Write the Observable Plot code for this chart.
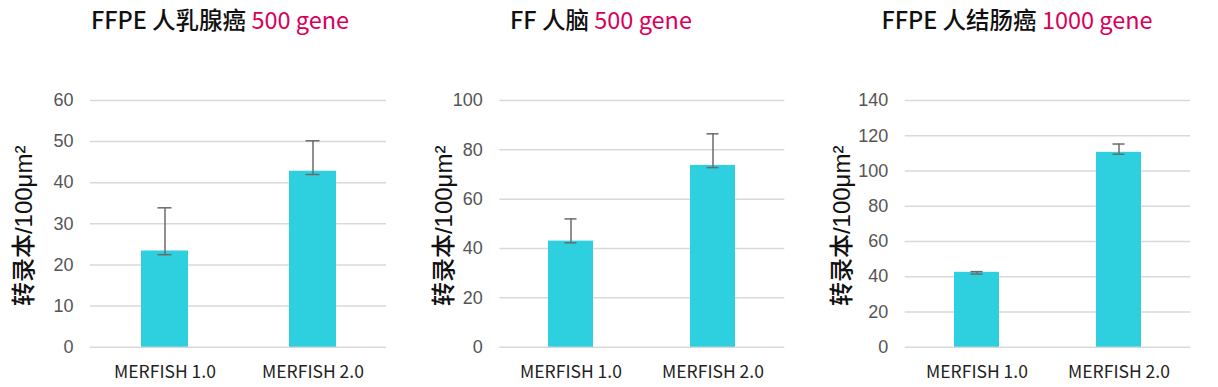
<!DOCTYPE html>
<html><head><meta charset="utf-8">
<script src="https://cdn.jsdelivr.net/npm/d3@7"></script>
<script src="https://cdn.jsdelivr.net/npm/@observablehq/plot@0.6"></script>
<style>
body{margin:0;background:#fff;}
#wrap{position:relative;width:1218px;height:387px;overflow:hidden;}
.title{position:absolute;top:8px;transform:translateX(-50%);white-space:nowrap;font-family:"Noto Sans CJK SC","Noto Sans",sans-serif;font-size:23.5px;line-height:1;color:#111;font-weight:500}
.title .hl{color:#d9005b;font-weight:400}
.panel{position:absolute;top:50px;}
.panel svg{overflow:visible;background:none;}
</style></head><body><div id="wrap"></div>
<script>
const categories = ["MERFISH 1.0", "MERFISH 2.0"];
const yLabel = "转录本/100μm²";

const breastTitle = "FFPE 人乳腺癌";
const breastGenes = "500 gene";
const breastValues = [23.4, 42.8];
const breastLow = [22.5, 42.0];
const breastHigh = [33.9, 50.2];
const breastTicks = [0, 10, 20, 30, 40, 50, 60];

const brainTitle = "FF 人脑";
const brainGenes = "500 gene";
const brainValues = [43.0, 73.7];
const brainLow = [42.3, 72.8];
const brainHigh = [52.0, 86.5];
const brainTicks = [0, 20, 40, 60, 80, 100];

const colonTitle = "FFPE 人结肠癌";
const colonGenes = "1000 gene";
const colonValues = [42.5, 110.6];
const colonLow = [41.5, 109.5];
const colonHigh = [42.9, 115.3];
const colonTicks = [0, 20, 40, 60, 80, 100, 120, 140];

const panels = [
  {title: breastTitle, genes: breastGenes, values: breastValues, low: breastLow, high: breastHigh, ticks: breastTicks,
   left: 0, titleCenter: 220, marginLeft: 90, marginRight: 20, labelDx: -66},
  {title: brainTitle, genes: brainGenes, values: brainValues, low: brainLow, high: brainHigh, ticks: brainTicks,
   left: 406, titleCenter: 601, marginLeft: 93.3, marginRight: 27.7, labelDx: -55},
  {title: colonTitle, genes: colonGenes, values: colonValues, low: colonLow, high: colonHigh, ticks: colonTicks,
   left: 812, titleCenter: 1017, marginLeft: 92.7, marginRight: 28, labelDx: -63}
];

const wrap = document.getElementById("wrap");
for (const p of panels) {
  const t = document.createElement("div");
  t.className = "title";
  t.style.left = p.titleCenter + "px";
  t.append(p.title + " ");
  const s = document.createElement("span");
  s.className = "hl";
  s.textContent = p.genes;
  t.append(s);
  wrap.append(t);

  const data = categories.map((c, i) => ({cat: c, value: p.values[i], low: p.low[i], high: p.high[i]}));
  const ymax = p.ticks[p.ticks.length - 1];
  const chart = Plot.plot({
    width: 406,
    height: 337,
    marginTop: 50,
    marginBottom: 40.3,
    marginLeft: p.marginLeft,
    marginRight: p.marginRight,
    x: {domain: categories, paddingInner: 0.685, paddingOuter: 0.3425},
    y: {domain: [0, ymax]},
    marks: [
      Plot.ruleY(p.ticks, {stroke: "#d9d9d9", strokeWidth: 1.5}),
      Plot.barY(data, {x: "cat", y: "value", fill: "#2ecfdf"}),
      Plot.ruleX(data, {x: "cat", y1: "low", y2: "high", stroke: "#6b6b6b", strokeWidth: 1.5}),
      Plot.tickY(data, {x: "cat", y: "low", stroke: "#6b6b6b", strokeWidth: 1.5, insetLeft: 16.5, insetRight: 16.5}),
      Plot.tickY(data, {x: "cat", y: "high", stroke: "#6b6b6b", strokeWidth: 1.5, insetLeft: 16.5, insetRight: 16.5}),
      Plot.axisY({ticks: p.ticks, tickSize: 0, tickPadding: 17, label: null, fill: "#555",
        fontSize: 18, fontFamily: "Liberation Sans, Arial, sans-serif"}),
      Plot.axisX({tickSize: 0, tickPadding: 18, label: null, fill: "#222",
        fontSize: 17.5, fontFamily: "Noto Sans CJK SC, Noto Sans, sans-serif"}),
      Plot.text([yLabel], {frameAnchor: "left", rotate: -90, dx: p.labelDx, dy: 2, fill: "#111",
        fontSize: 24, fontWeight: 500, fontFamily: "Liberation Sans, Noto Sans CJK SC, sans-serif",
        textAnchor: "middle", lineAnchor: "middle"})
    ]
  });
  const div = document.createElement("div");
  div.className = "panel";
  div.style.left = p.left + "px";
  div.append(chart);
  wrap.append(div);
}
</script>
</body></html>
